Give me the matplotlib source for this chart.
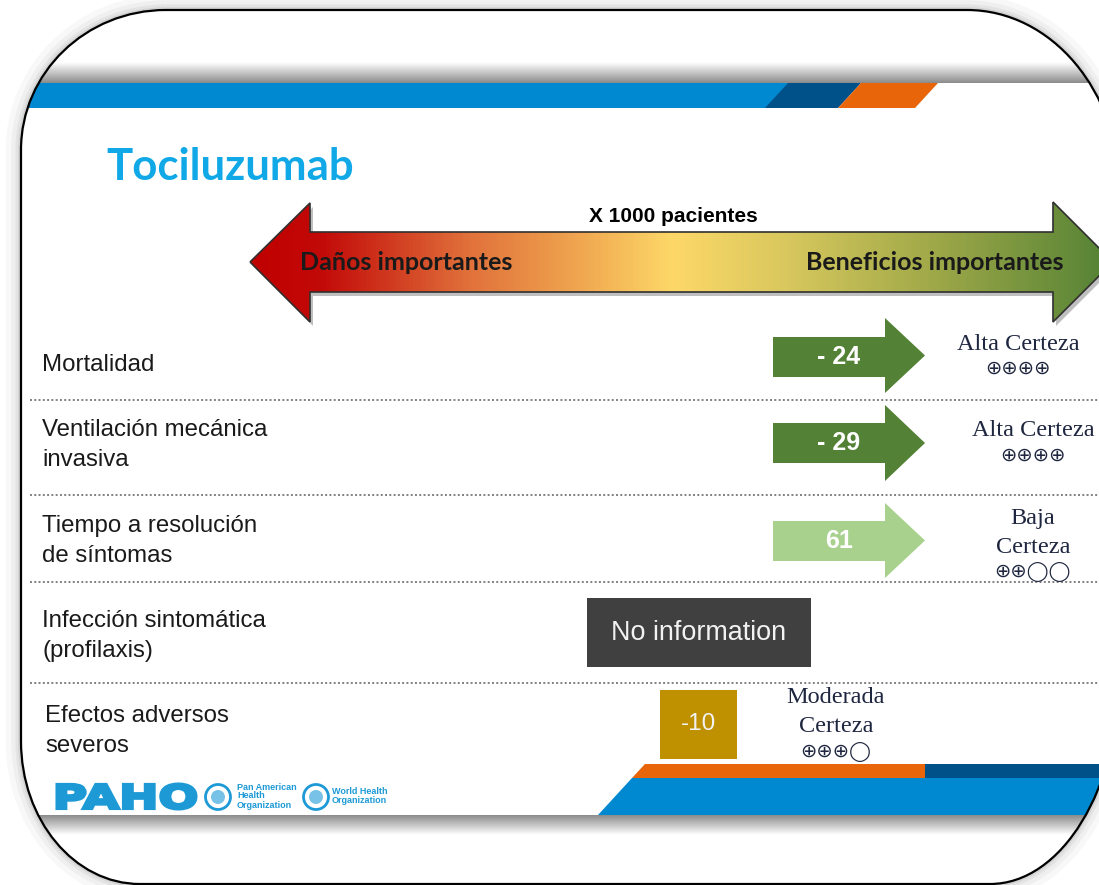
import numpy as np
import matplotlib
matplotlib.use("Agg")
import matplotlib.pyplot as plt
from matplotlib.path import Path
from matplotlib.patches import PathPatch, Polygon, Rectangle, Circle
from matplotlib.colors import LinearSegmentedColormap
from matplotlib.textpath import TextPath
from matplotlib.font_manager import FontProperties
from matplotlib.transforms import Affine2D

# data
title = "Tociluzumab"
scale_label = "X 1000 pacientes"
harm_label = "Daños importantes"
benefit_label = "Beneficios importantes"
outcomes = ["Mortalidad", "Ventilación mecánica\ninvasiva", "Tiempo a resolución\nde síntomas",
            "Infección sintomática\n(profilaxis)", "Efectos adversos\nseveros"]
effects = ["- 24", "- 29", "61", "No information", "-10"]
effect_kind = ["arrow", "arrow", "arrow", "box", "box"]
effect_colors = ["#538135", "#538135", "#a9d18e", "#404040", "#bf9000"]
certainty = ["Alta Certeza", "Alta Certeza", "Baja\nCerteza", "", "Moderada\nCerteza"]
symbols = ["⊕⊕⊕⊕", "⊕⊕⊕⊕", "⊕⊕◯◯", "", "⊕⊕⊕◯"]

# layout (pixel coordinates)
label_xy = [(42, 365), (42, 445), (42, 541), (42, 636), (45, 731)]
effect_box = [(773, 337, 885, 925, 318, 393), (773, 423, 885, 925, 405, 481),
              (773, 521, 885, 925, 503, 578), (587, 598, 811, 667), (660, 690, 737, 759)]
cert_xy = [(1018, 344), (1033, 430), (1033, 533), None, (836, 712)]
sym_xy = [(1018, 368), (1033, 455), (1033, 572), None, (836, 752)]
divider_y = [400, 495, 582, 683]

W, H = 1099, 885
fig = plt.figure(figsize=(W / 100, H / 100), dpi=100, facecolor="white")
ax = fig.add_axes([0, 0, 1, 1])
ax.set_xlim(0, W)
ax.set_ylim(H, 0)
ax.axis("off")

# rounded outline
L, R, T, B = 21, 1120, 10, 884
k = 0.5523
tl, tr, br, bl = (145, 140), (153, 182), (130, 213), (119, 143)
verts = [(L + tl[0], T), (R - tr[0], T),
         (R - tr[0] + k * tr[0], T), (R, T + tr[1] - k * tr[1]), (R, T + tr[1]),
         (R, B - br[1]),
         (R, B - br[1] + k * br[1]), (R - br[0] + k * br[0], B), (R - br[0], B),
         (L + bl[0], B),
         (L + bl[0] - k * bl[0], B), (L, B - bl[1] + k * bl[1]), (L, B - bl[1]),
         (L, T + tl[1]),
         (L, T + tl[1] - k * tl[1]), (L + tl[0] - k * tl[0], T), (L + tl[0], T),
         (L + tl[0], T)]
codes = ([Path.MOVETO, Path.LINETO] + [Path.CURVE4] * 3 + [Path.LINETO] + [Path.CURVE4] * 3
         + [Path.LINETO] + [Path.CURVE4] * 3 + [Path.LINETO] + [Path.CURVE4] * 3 + [Path.CLOSEPOLY])
outline = Path(verts, codes)
outline_poly = Path(outline.to_polygons(closed_only=True)[0], closed=True)
for lw, a in [(22, 0.04), (14, 0.06), (8, 0.08), (4, 0.12)]:
    ax.add_patch(PathPatch(outline_poly, facecolor="none", edgecolor="#606060", lw=lw, alpha=a, zorder=1))
clip = PathPatch(outline_poly, facecolor="white", edgecolor="none", zorder=2)
ax.add_patch(clip)

# top shadow + band
shade = np.linspace(1, 0.55, 40).reshape(-1, 1)
im = ax.imshow(np.repeat(shade, 2, axis=1), cmap="gray", vmin=0, vmax=1, extent=[0, W + 30, 83, 62],
               aspect="auto", zorder=3, interpolation="bilinear")
im.set_clip_path(clip)
p = ax.add_patch(Rectangle((0, 83), 800, 25, facecolor="#0089d0", edgecolor="none", zorder=4))
p.set_clip_path(clip)
ax.add_patch(Polygon([(765, 108), (788, 83), (861, 83), (838, 108)], facecolor="#00518a", edgecolor="none", zorder=4))
ax.add_patch(Polygon([(838, 108), (861, 83), (938, 83), (915, 108)], facecolor="#e8650a", edgecolor="none", zorder=4))

# bottom band + shadow
shade2 = np.linspace(0.55, 1, 40).reshape(-1, 1)
im2 = ax.imshow(np.repeat(shade2, 2, axis=1), cmap="gray", vmin=0, vmax=1, extent=[30, W + 30, 835, 815],
                aspect="auto", zorder=3, interpolation="bilinear")
im2.set_clip_path(clip)
for poly, col in [([(645, 764), (925, 764), (925, 778), (632, 778)], "#e8650a"),
                  ([(925, 764), (1130, 764), (1130, 778), (925, 778)], "#00518a"),
                  ([(632, 778), (1130, 778), (1130, 815), (598, 815)], "#0089d0")]:
    p = ax.add_patch(Polygon(poly, facecolor=col, edgecolor="none", zorder=4))
    p.set_clip_path(clip)

ax.add_patch(PathPatch(outline_poly, facecolor="none", edgecolor="black", lw=1.6, zorder=20))

# title
ax.text(106, 167, title, fontsize=31.5, fontweight="bold", family="Lato", color="#10a8e6",
        va="center", ha="left", zorder=5)

# big gradient double arrow
big = [(250, 262), (310, 203), (310, 232), (1053, 232), (1053, 202), (1113, 262),
       (1053, 322), (1053, 292), (310, 292), (310, 322)]
ax.add_patch(Polygon([(x + 3, y + 4) for x, y in big], facecolor="#000000", alpha=0.25,
                     edgecolor="none", zorder=5))
arrow = Polygon(big, facecolor="none", edgecolor="#303030", lw=1.2, zorder=7)
ax.add_patch(arrow)
cmap = LinearSegmentedColormap.from_list("harm_benefit", [
    (0.0, "#c00000"), (0.08, "#c20a08"), (0.25, "#e0703a"), (0.38, "#f0a650"),
    (0.49, "#fdd868"), (0.62, "#d9c85e"), (0.78, "#a4ab4a"), (1.0, "#548235")])
grad = ax.imshow(np.linspace(0, 1, 256).reshape(1, -1), cmap=cmap, extent=[250, 1113, 322, 202],
                 aspect="auto", zorder=6, interpolation="bilinear")
grad.set_clip_path(arrow)
ax.text(673, 217, scale_label, fontsize=15, fontweight="bold", family="Liberation Sans",
        ha="center", va="center", zorder=8)
ax.text(300, 263, harm_label, fontsize=18, fontweight="bold", family="Lato",
        ha="left", va="center", color="#1a1a1a", zorder=8)
ax.text(1063, 263, benefit_label, fontsize=18, fontweight="bold", family="Lato",
        ha="right", va="center", color="#1a1a1a", zorder=8)

# dividers
for y in divider_y:
    ax.plot([30, W], [y, y], ls=(0, (1, 1.2)), lw=1.4, color="#808080", zorder=5)

# rows
navy = "#1f2740"
for i, name in enumerate(outcomes):
    lx, ly = label_xy[i]
    ax.text(lx, ly, name, fontsize=17.3, family="Liberation Sans", color="#1a1a1a",
            ha="left", va="center", linespacing=1.45, zorder=8)
    if effect_kind[i] == "arrow":
        x0, yt, xb, tip, ht, hb = effect_box[i]
        yb = yt + 40
        yc = (ht + hb) / 2
        ax.add_patch(Polygon([(x0, yt), (xb, yt), (xb, ht), (tip, yc), (xb, hb), (xb, yb), (x0, yb)],
                             facecolor=effect_colors[i], edgecolor="none", zorder=6))
        ax.text((x0 + xb) / 2 + 10, (yt + yb) / 2, effects[i], fontsize=18, fontweight="bold",
                family="Liberation Sans", color="white", ha="center", va="center", zorder=8)
    else:
        x0, y0, x1, y1 = effect_box[i]
        ax.add_patch(Rectangle((x0, y0), x1 - x0, y1 - y0, facecolor=effect_colors[i],
                               edgecolor="none", zorder=6))
        ax.text((x0 + x1) / 2, (y0 + y1) / 2, effects[i], fontsize=19.4 if len(effects[i]) > 4 else 17.5,
                family="Liberation Sans", color="#f2f2f2", ha="center", va="center", zorder=8)
    if cert_xy[i] is not None:
        cx, cy = cert_xy[i]
        ax.text(cx, cy, certainty[i], fontsize=17.5, family="Liberation Serif", color=navy,
                ha="center", va="center", linespacing=1.55, zorder=8)
        sx, sy = sym_xy[i]
        ax.text(sx, sy, symbols[i], fontsize=14, family=["DejaVu Sans"], color=navy,
                ha="center", va="center", zorder=8)

# PAHO logo
paho_blue = "#1d9ad6"
tp = TextPath((0, 0), "PAHO", size=40, prop=FontProperties(family="DejaVu Sans", weight="heavy"))
ext = tp.get_extents()
tf = (Affine2D().translate(-ext.x0, -ext.y0).scale(139 / ext.width, -25 / ext.height)
      .translate(57, 809) + ax.transData)
ax.add_patch(PathPatch(tp, facecolor=paho_blue, edgecolor=paho_blue, lw=2.2, transform=tf, zorder=8))
for cx, tx, label in [(218, 237, "Pan American\nHealth\nOrganization"), (316, 332, "World Health\nOrganization")]:
    ax.add_patch(Circle((cx, 797), 12.5, facecolor="white", edgecolor=paho_blue, lw=2, zorder=8))
    ax.add_patch(Circle((cx, 797), 7, facecolor=paho_blue, edgecolor="none", alpha=0.6, zorder=8))
    ax.text(tx, 796, label, fontsize=6.5, fontweight="bold", family="Liberation Sans",
            color=paho_blue, ha="left", va="center", linespacing=1.0, zorder=8)

ax.set_xlim(0, W)
ax.set_ylim(H, 0)
fig.savefig("out.png", dpi=100, facecolor="white")
